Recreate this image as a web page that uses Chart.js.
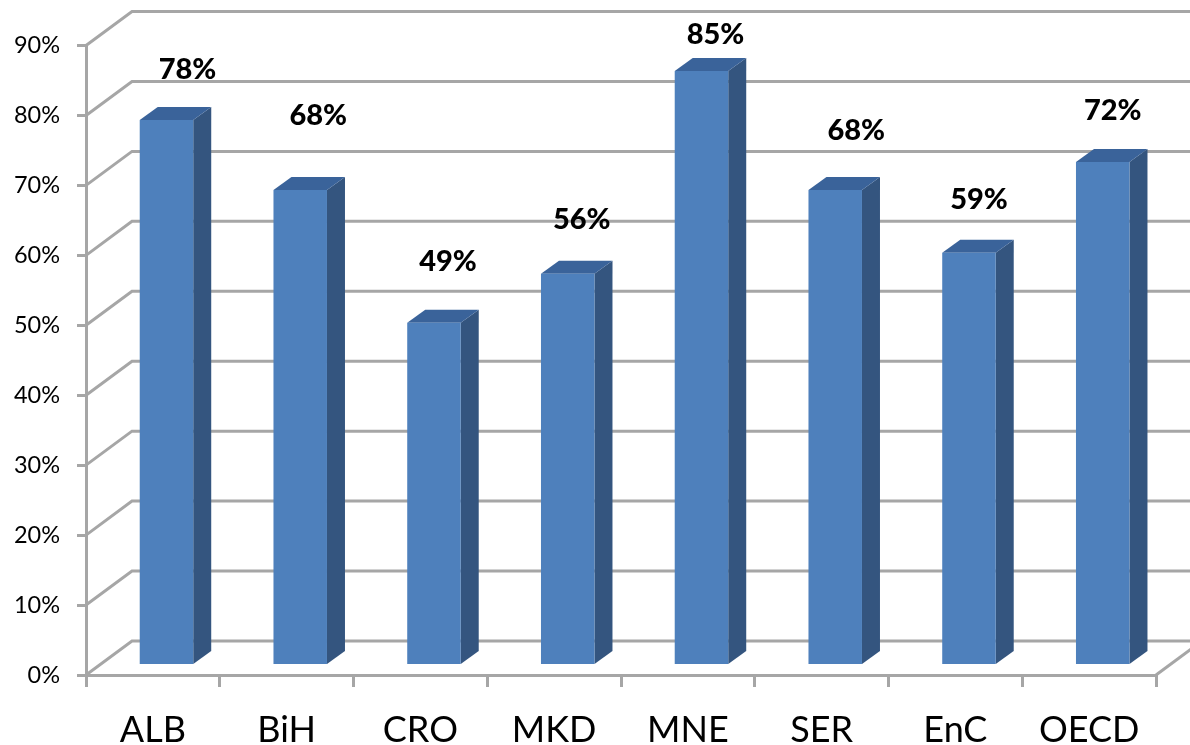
<!DOCTYPE html>
<html>
<head>
<meta charset="utf-8">
<title>Chart</title>
<style>
  html, body { margin: 0; padding: 0; background: #fff; overflow: hidden; }
  canvas { display: block; }
</style>
<script src="https://cdn.jsdelivr.net/npm/chart.js@4"></script>
</head>
<body>
<canvas id="chart" width="1190" height="745"></canvas>
<script>
// values
const categories = ['ALB', 'BiH', 'CRO', 'MKD', 'MNE', 'SER', 'EnC', 'OECD'];
const shares = [78, 68, 49, 56, 85, 68, 59, 72];
const yTicks = [0, 10, 20, 30, 40, 50, 60, 70, 80, 90];

// the value labels sit loosely above the bars in the original
const labelShiftX = [21, 18, 14, 14, 14, 21, 10, 10];
const labelLift = [50, 74, 61, 54, 36, 59, 53, 51];

const gridColor = '#a6a6a6';
const wallX = 46, wallY = 34;       // depth of the back wall
const rowX = 13.6, rowY = 9.5;      // where the bars stand on the floor
const sideX = 18, sideY = 13;       // depth of one bar

// back wall and floor lines
const wallPlugin = {
  id: 'wall',
  beforeDatasetsDraw(chart) {
    const { ctx, scales: { x, y } } = chart;
    ctx.save();
    ctx.strokeStyle = gridColor;
    ctx.lineWidth = 3;
    yTicks.forEach(t => {
      const py = y.getPixelForValue(t);
      ctx.beginPath();
      ctx.moveTo(x.left, py);
      ctx.lineTo(x.left + wallX, py - wallY);
      ctx.lineTo(x.right + wallX, py - wallY);
      ctx.stroke();
    });
    const floor = y.getPixelForValue(0);
    ctx.beginPath();
    ctx.moveTo(x.right, floor);
    ctx.lineTo(x.right + wallX, floor - wallY);
    ctx.stroke();
    ctx.restore();
  }
};

// side and top faces, then shift the whole row back onto the floor
const barDepthPlugin = {
  id: 'barDepth',
  beforeDatasetsDraw(chart) {
    const { ctx } = chart;
    ctx.save();
    ctx.translate(rowX, -rowY);
    chart.getDatasetMeta(0).data.forEach(bar => {
      const l = bar.x - bar.width / 2, r = bar.x + bar.width / 2;
      ctx.fillStyle = '#34557f';
      ctx.beginPath();
      ctx.moveTo(r, bar.y);
      ctx.lineTo(r + sideX, bar.y - sideY);
      ctx.lineTo(r + sideX, bar.base - sideY);
      ctx.lineTo(r, bar.base);
      ctx.closePath();
      ctx.fill();
      ctx.fillStyle = '#3a639a';
      ctx.beginPath();
      ctx.moveTo(l, bar.y);
      ctx.lineTo(l + sideX, bar.y - sideY);
      ctx.lineTo(r + sideX, bar.y - sideY);
      ctx.lineTo(r, bar.y);
      ctx.closePath();
      ctx.fill();
    });
  },
  afterDatasetsDraw(chart) {
    const { ctx } = chart;
    ctx.restore();
    ctx.save();
    ctx.fillStyle = '#000';
    ctx.font = '900 29px Lato';
    ctx.textAlign = 'center';
    ctx.textBaseline = 'middle';
    chart.getDatasetMeta(0).data.forEach((bar, i) => {
      const top = bar.y - rowY;
      ctx.fillText(shares[i] + '%', bar.x + rowX + labelShiftX[i], top - labelLift[i]);
    });
    ctx.restore();
  }
};

const ctx = document.getElementById('chart').getContext('2d');

new Chart(ctx, {
  type: 'bar',
  data: {
    labels: categories,
    datasets: [{
      data: shares,
      backgroundColor: '#4e80bc',
      borderWidth: 0,
      barPercentage: 0.4,
      categoryPercentage: 1
    }]
  },
  options: {
    responsive: false,
    animation: false,
    devicePixelRatio: 1,
    layout: { padding: { top: 45.5, right: 34, left: 0, bottom: 0 } },
    plugins: { legend: { display: false }, tooltip: { enabled: false } },
    scales: {
      x: {
        afterFit(scale) { scale.height = 70; },
        border: { color: gridColor, width: 3 },
        grid: { color: gridColor, lineWidth: 3, drawOnChartArea: false, tickLength: 12 },
        ticks: { color: '#000', font: { family: 'Lato', size: 36 }, padding: 22, maxRotation: 0, autoSkip: false }
      },
      y: {
        min: 0,
        max: 90,
        afterFit(scale) { scale.width = 86; },
        border: { color: gridColor, width: 3 },
        grid: { color: gridColor, lineWidth: 3, drawOnChartArea: false, tickLength: 9 },
        ticks: {
          stepSize: 10,
          color: '#000',
          font: { family: 'Lato', size: 23.5 },
          padding: 17,
          callback: v => v + '%'
        }
      }
    }
  },
  plugins: [wallPlugin, barDepthPlugin]
});
</script>
</body>
</html>
